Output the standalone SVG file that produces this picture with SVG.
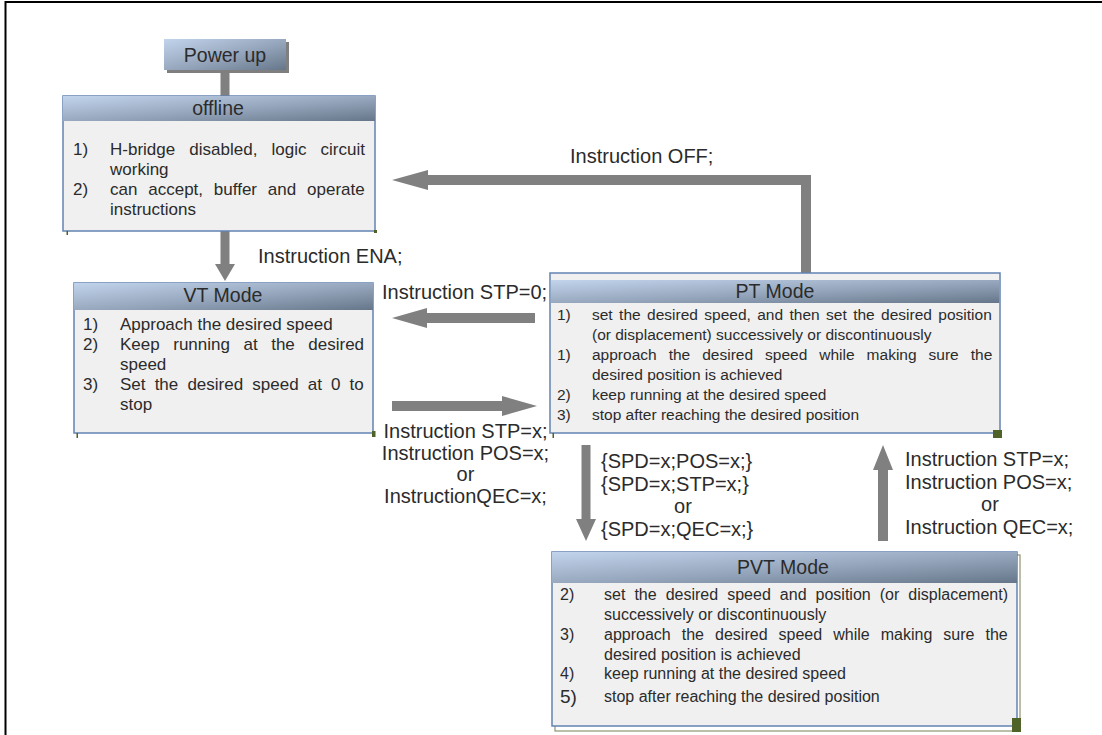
<svg xmlns="http://www.w3.org/2000/svg" width="1102" height="735" viewBox="0 0 1102 735">
<defs>
<linearGradient id="hdr" x1="0" y1="0" x2="1" y2="1">
<stop offset="0" stop-color="#c2d4ec"/>
<stop offset="0.55" stop-color="#94a5bb"/>
<stop offset="1" stop-color="#66768a"/>
</linearGradient>
<style>
text{font-family:"Liberation Sans",Arial,sans-serif;fill:#2b2b2b}
.t{font-size:19.5px;text-anchor:middle}
.lb{font-size:20px}
.c{text-anchor:middle}
.b17{font-size:17px}
.b155{font-size:15.5px}
.b16{font-size:16px}
.body{fill:#f0f0f0;stroke:#6283b3;stroke-width:1.5}
.hd{fill:url(#hdr)}
.arr{fill:#808080}
.gm{fill:#4f6228}
.sh{fill:none;stroke:#8a9470;stroke-width:1.2}
</style>
</defs>
<rect width="1102" height="735" fill="#fff"/>
<rect x="5.5" y="2" width="1110" height="750" fill="none" stroke="#000" stroke-width="2"/>

<g id="connectors">
<rect class="arr" x="220.5" y="70" width="9" height="27"/>
<path class="arr" d="M220.5,231 H229.5 V264 H235 L225,281 L215,264 H220.5 Z"/>
<path class="arr" d="M535,313 V323 H427 V328 L392,318 L427,308 V313 Z"/>
<path class="arr" d="M392,401 H502 V396 L537,406 L502,416 V411 H392 Z"/>
<path class="arr" d="M428,175 H811 V273 H801 V185 H428 V190 L392,180 L428,170 Z"/>
<path class="arr" d="M581.5,445 H590.5 V519 H596 L586,541 L576,519 H581.5 Z"/>
<path class="arr" d="M878,541 V470 H873 L883,445 L893,470 H888 V541 Z"/>
</g>

<g id="power-up">
<rect x="167" y="42" width="122" height="31" fill="#7f7f7f"/>
<rect class="hd" x="164" y="39" width="122" height="31"/>
<text class="t" x="225" y="62">Power up</text>
</g>

<g id="offline">
<rect class="body" x="63" y="96" width="312" height="135"/>
<rect class="hd" x="63" y="96" width="312" height="25"/>
<text class="t" x="218" y="115">offline</text>
<g class="b17">
<text x="73" y="155">1)</text>
<text x="110" y="155" word-spacing="9.4">H-bridge disabled, logic circuit</text>
<text x="110" y="175">working</text>
<text x="73" y="195">2)</text>
<text x="110" y="195" word-spacing="6.1">can accept, buffer and operate</text>
<text x="110" y="215">instructions</text>
</g>
<rect class="gm" x="66.5" y="231" width="1.5" height="4"/>
<rect class="gm" x="374" y="230" width="3" height="3"/>
</g>

<g id="vt-mode">
<rect class="body" x="74" y="283" width="299" height="150"/>
<rect class="hd" x="74" y="283" width="299" height="27"/>
<text class="t" x="223" y="302">VT Mode</text>
<g class="b17">
<text x="83" y="330">1)</text>
<text x="120" y="330">Approach the desired speed</text>
<text x="83" y="350">2)</text>
<text x="120" y="350" word-spacing="8.8">Keep running at the desired</text>
<text x="120" y="370">speed</text>
<text x="83" y="390">3)</text>
<text x="120" y="390" word-spacing="4.4">Set the desired speed at 0 to</text>
<text x="120" y="410">stop</text>
</g>
<rect class="gm" x="76.5" y="433" width="1.5" height="5"/>
<rect class="gm" x="372" y="431" width="3.5" height="6"/>
</g>

<g id="pt-mode">
<rect class="body" x="550" y="273" width="450" height="160"/>
<rect class="hd" x="550.8" y="280" width="448.5" height="23"/>
<text class="t" x="775" y="298">PT Mode</text>
<g class="b155">
<text x="557" y="320">1)</text>
<text x="592" y="320" word-spacing="2.1">set the desired speed, and then set the desired position</text>
<text x="592" y="340">(or displacement) successively or discontinuously</text>
<text x="557" y="360">1)</text>
<text x="592" y="360" word-spacing="7.7">approach the desired speed while making sure the</text>
<text x="592" y="380">desired position is achieved</text>
<text x="557" y="400">2)</text>
<text x="592" y="400">keep running at the desired speed</text>
<text x="557" y="420">3)</text>
<text x="592" y="420">stop after reaching the desired position</text>
</g>
<rect class="gm" x="552.5" y="433" width="1.5" height="5"/>
<rect class="gm" x="993" y="430" width="9" height="8"/>
</g>

<g id="pvt-mode">
<rect class="sh" x="555" y="555" width="465" height="176"/>
<rect class="body" x="552" y="552" width="465" height="174"/>
<rect class="hd" x="552" y="552" width="465" height="31"/>
<text class="t" x="783" y="574">PVT Mode</text>
<g class="b16">
<text x="560" y="600">2)</text>
<text x="604" y="600" word-spacing="4.6">set the desired speed and position (or displacement)</text>
<text x="604" y="620">successively or discontinuously</text>
<text x="560" y="640">3)</text>
<text x="604" y="640" word-spacing="6.6">approach the desired speed while making sure the</text>
<text x="604" y="660">desired position is achieved</text>
<text x="560" y="679">4)</text>
<text x="604" y="679">keep running at the desired speed</text>
<text x="560" y="703" font-size="19">5)</text>
<text x="604" y="702">stop after reaching the desired position</text>
</g>
<rect class="gm" x="1012" y="718" width="9" height="14"/>
</g>

<g id="labels" class="lb">
<text x="570" y="163">Instruction OFF;</text>
<text x="258" y="263">Instruction ENA;</text>
<text x="382" y="299">Instruction STP=0;</text>
<text class="c" x="465.5" y="438">Instruction STP=x;</text>
<text class="c" x="465.5" y="460">Instruction POS=x;</text>
<text class="c" x="465.5" y="481">or</text>
<text class="c" x="465.5" y="503">InstructionQEC=x;</text>
<text x="601" y="468">{SPD=x;POS=x;}</text>
<text x="601" y="491">{SPD=x;STP=x;}</text>
<text class="c" x="683" y="513">or</text>
<text x="601" y="536">{SPD=x;QEC=x;}</text>
<text x="905" y="466">Instruction STP=x;</text>
<text x="905" y="489">Instruction POS=x;</text>
<text class="c" x="990" y="511">or</text>
<text x="905" y="534">Instruction QEC=x;</text>
</g>
</svg>
